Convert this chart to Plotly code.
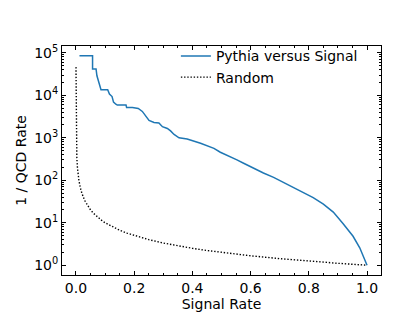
import plotly.graph_objects as go

# Pythia versus Signal curve
pythia_x = [0.012, 0.057, 0.057, 0.069, 0.072, 0.078, 0.083, 0.086, 0.109, 0.115,
            0.124, 0.129, 0.137, 0.142, 0.172, 0.174, 0.194, 0.206, 0.214, 0.228,
            0.24, 0.251, 0.268, 0.285, 0.297, 0.314, 0.325, 0.337, 0.354, 0.382,
            0.428, 0.474, 0.496, 0.531, 0.553, 0.576, 0.61, 0.644, 0.679, 0.713,
            0.747, 0.781, 0.815, 0.85, 0.884, 0.918, 0.952, 0.975, 0.992, 1.0]
pythia_y = [85100, 85100, 41700, 41700, 28800, 21900, 15800, 13500, 13500, 10700,
            9330, 6920, 6170, 5890, 5890, 5130, 5130, 4900, 4900, 4170,
            3160, 2570, 2290, 2240, 1820, 1660, 1450, 1200, 1000, 933,
            741, 562, 457, 363, 302, 251, 191, 148, 117, 89,
            66, 51, 39, 27.5, 17.8, 9.5, 4.8, 2.57, 1.38, 1.0]

# Random curve
random_x = [0.00002, 0.0002, 0.0005, 0.001, 0.002, 0.003, 0.005, 0.0075, 0.01, 0.015,
            0.02, 0.03, 0.04, 0.05, 0.06, 0.075, 0.09, 0.1, 0.125, 0.15, 0.175, 0.2,
            0.25, 0.3, 0.35, 0.4, 0.45, 0.5, 0.6, 0.7, 0.8, 0.9, 1.0]
random_y = [46000, 5000, 2000, 1000, 500, 333, 200, 133, 100, 66.7,
            50, 33.3, 25, 20, 16.7, 13.3, 11.1, 10, 8, 6.67, 5.71, 5,
            4, 3.33, 2.86, 2.5, 2.22, 2, 1.67, 1.43, 1.25, 1.11, 1.0]

y_tickvals = [1, 10, 100, 1000, 10000, 100000]
y_ticktext = ["10<sup>0</sup>", "10<sup>1</sup>", "10<sup>2</sup>",
              "10<sup>3</sup>", "10<sup>4</sup>", "10<sup>5</sup>"]
y_minor = [m * 10 ** e for e in range(0, 6) for m in range(2, 10)]
x_tickvals = [0.0, 0.2, 0.4, 0.6, 0.8, 1.0]
x_ticktext = ["0.0", "0.2", "0.4", "0.6", "0.8", "1.0"]

fig = go.Figure()
fig.add_trace(go.Scatter(x=pythia_x, y=pythia_y, mode="lines",
                         name="Pythia versus Signal",
                         line=dict(color="#1f77b4", width=1.5)))
fig.add_trace(go.Scatter(x=random_x, y=random_y, mode="lines", name="Random",
                         line=dict(color="black", width=1.4, dash="1.4px,1.8px")))

font = dict(family="DejaVu Sans", size=14, color="black")
fig.update_layout(
    width=415, height=312,
    margin=dict(l=52, r=42, t=38, b=39),
    paper_bgcolor="white", plot_bgcolor="white",
    font=font,
    showlegend=True,
    legend=dict(x=0.357, y=1.025, xanchor="left", yanchor="top",
                bgcolor="rgba(0,0,0,0)", font=font, tracegroupgap=0,
                itemwidth=30),
)
fig.update_xaxes(
    range=[-0.048, 1.048], tickvals=x_tickvals, ticktext=x_ticktext,
    ticks="inside", ticklen=4, tickwidth=1, tickcolor="black",
    showline=True, linecolor="black", linewidth=1, mirror="ticks",
    showgrid=False, zeroline=False,
    minor=dict(ticks="inside", ticklen=2, dtick=0.05, tick0=0, tickcolor="black"),
    title=dict(text="Signal Rate", standoff=2, font=font),
)
fig.update_yaxes(
    type="log", range=[-0.23, 5.16], tickvals=y_tickvals, ticktext=y_ticktext,
    ticks="inside", ticklen=4, tickwidth=1, tickcolor="black",
    showline=True, linecolor="black", linewidth=1, mirror="ticks",
    showgrid=False, zeroline=False,
    minor=dict(ticks="inside", ticklen=2, tickcolor="black", tickvals=y_minor),
    title=dict(text="1 / QCD Rate", standoff=4, font=font),
)

fig.write_html("out.html")
